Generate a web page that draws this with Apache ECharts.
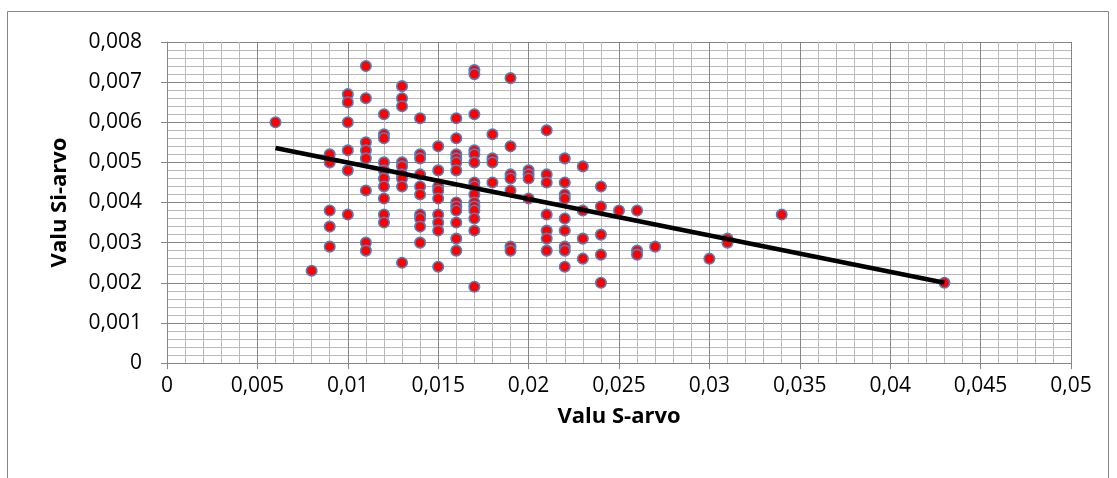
<!DOCTYPE html>
<html>
<head>
<meta charset="utf-8">
<script src="https://cdn.jsdelivr.net/npm/echarts@6/dist/echarts.min.js"></script>
<style>
  html, body { margin: 0; padding: 0; background: #fff; }
  #chart { width: 1117px; height: 478px; }
</style>
</head>
<body>
<div id="chart"></div>
<script>
// S values (x) and Si values (y), one pair per sample
const sValues = [
  0.006,
  0.008,
  0.009, 0.009, 0.009, 0.009, 0.009,
  0.010, 0.010, 0.010, 0.010, 0.010, 0.010,
  0.011, 0.011, 0.011, 0.011, 0.011, 0.011, 0.011, 0.011,
  0.012, 0.012, 0.012, 0.012, 0.012, 0.012, 0.012, 0.012, 0.012, 0.012,
  0.013, 0.013, 0.013, 0.013, 0.013, 0.013, 0.013, 0.013, 0.013,
  0.014, 0.014, 0.014, 0.014, 0.014, 0.014, 0.014, 0.014, 0.014, 0.014,
  0.015, 0.015, 0.015, 0.015, 0.015, 0.015, 0.015, 0.015, 0.015,
  0.016, 0.016, 0.016, 0.016, 0.016, 0.016, 0.016, 0.016, 0.016, 0.016, 0.016, 0.016,
  0.017, 0.017, 0.017, 0.017, 0.017, 0.017, 0.017, 0.017, 0.017, 0.017, 0.017, 0.017, 0.017, 0.017, 0.017,
  0.018, 0.018, 0.018, 0.018,
  0.019, 0.019, 0.019, 0.019, 0.019, 0.019, 0.019,
  0.020, 0.020, 0.020, 0.020,
  0.021, 0.021, 0.021, 0.021, 0.021, 0.021, 0.021,
  0.022, 0.022, 0.022, 0.022, 0.022, 0.022, 0.022, 0.022, 0.022,
  0.023, 0.023, 0.023, 0.023,
  0.024, 0.024, 0.024, 0.024, 0.024,
  0.025,
  0.026, 0.026, 0.026,
  0.027,
  0.030,
  0.031, 0.031,
  0.034,
  0.043
];
const siValues = [
  0.0060,
  0.0023,
  0.0052, 0.0050, 0.0038, 0.0034, 0.0029,
  0.0067, 0.0065, 0.0060, 0.0053, 0.0048, 0.0037,
  0.0074, 0.0066, 0.0055, 0.0053, 0.0051, 0.0043, 0.0030, 0.0028,
  0.0062, 0.0057, 0.0056, 0.0050, 0.0048, 0.0046, 0.0044, 0.0041, 0.0037, 0.0035,
  0.0069, 0.0066, 0.0064, 0.0050, 0.0049, 0.0047, 0.0046, 0.0044, 0.0025,
  0.0061, 0.0052, 0.0051, 0.0047, 0.0044, 0.0042, 0.0037, 0.0036, 0.0034, 0.0030,
  0.0054, 0.0048, 0.0044, 0.0043, 0.0041, 0.0037, 0.0035, 0.0033, 0.0024,
  0.0061, 0.0056, 0.0052, 0.0051, 0.0050, 0.0048, 0.0040, 0.0039, 0.0038, 0.0035, 0.0031, 0.0028,
  0.0073, 0.0072, 0.0062, 0.0053, 0.0052, 0.0050, 0.0045, 0.0044, 0.0042, 0.0040, 0.0039, 0.0038, 0.0036, 0.0033, 0.0019,
  0.0057, 0.0051, 0.0050, 0.0045,
  0.0071, 0.0054, 0.0047, 0.0046, 0.0043, 0.0029, 0.0028,
  0.0048, 0.0047, 0.0046, 0.0041,
  0.0058, 0.0047, 0.0045, 0.0037, 0.0033, 0.0031, 0.0028,
  0.0051, 0.0045, 0.0042, 0.0041, 0.0036, 0.0033, 0.0029, 0.0028, 0.0024,
  0.0049, 0.0038, 0.0031, 0.0026,
  0.0044, 0.0039, 0.0032, 0.0027, 0.0020,
  0.0038,
  0.0038, 0.0028, 0.0027,
  0.0029,
  0.0026,
  0.0031, 0.0030,
  0.0037,
  0.0020
];

// Linear trend line end points
const trendS = [0.006, 0.043];
const trendSi = [0.00536, 0.0020];

// Tick labels (Finnish decimal comma)
const xTickLabels = ['0', '0,005', '0,01', '0,015', '0,02', '0,025', '0,03', '0,035', '0,04', '0,045', '0,05'];
const yTickLabels = ['0', '0,001', '0,002', '0,003', '0,004', '0,005', '0,006', '0,007', '0,008'];

const xTitle = 'Valu S-arvo';
const yTitle = 'Valu Si-arvo';

const points = sValues.map((s, i) => [s, siValues[i]]);
const trend = trendS.map((s, i) => [s, trendSi[i]]);

const FONT = 'Open Sans';
const majorColor = '#858585';
const minorColor = '#b9b9b9';

const chart = echarts.init(document.getElementById('chart'), null, { renderer: 'canvas' });

chart.setOption({
  animation: false,
  backgroundColor: '#ffffff',
  graphic: [{
    type: 'rect',
    shape: { x: 7.5, y: 11.5, width: 1101, height: 520 },
    style: { fill: 'none', stroke: '#868686', lineWidth: 1 },
    silent: true,
    z: -10
  }],
  grid: { left: 167, right: 46, top: 42, bottom: 115, containLabel: false },
  xAxis: {
    type: 'value',
    min: 0, max: 0.05, interval: 0.005,
    name: xTitle,
    nameLocation: 'middle',
    nameGap: 43,
    nameTextStyle: { fontFamily: FONT, fontSize: 22, fontWeight: 'bold', color: '#000' },
    axisLine: { show: true, lineStyle: { color: majorColor, width: 1 } },
    axisTick: { show: true, inside: false, length: 6, lineStyle: { color: majorColor } },
    axisLabel: {
      fontFamily: FONT, fontSize: 21, color: '#000', margin: 13,
      formatter: v => xTickLabels[Math.round(v / 0.005)]
    },
    splitLine: { show: true, lineStyle: { color: majorColor, width: 1 } },
    minorTick: { show: false, splitNumber: 5 },
    minorSplitLine: { show: true, lineStyle: { color: minorColor, width: 1 } }
  },
  yAxis: {
    type: 'value',
    min: 0, max: 0.008, interval: 0.001,
    name: yTitle,
    nameLocation: 'middle',
    nameGap: 96,
    nameRotate: 90,
    nameTextStyle: { fontFamily: FONT, fontSize: 22, fontWeight: 'bold', color: '#000' },
    axisLine: { show: true, lineStyle: { color: majorColor, width: 1 } },
    axisTick: { show: true, inside: false, length: 6, lineStyle: { color: majorColor } },
    axisLabel: {
      fontFamily: FONT, fontSize: 21, color: '#000', margin: 25,
      formatter: v => yTickLabels[Math.round(v / 0.001)]
    },
    splitLine: { show: true, lineStyle: { color: majorColor, width: 1 } },
    minorTick: { show: false, splitNumber: 5 },
    minorSplitLine: { show: true, lineStyle: { color: minorColor, width: 1 } }
  },
  series: [
    {
      type: 'scatter',
      data: points,
      symbol: 'circle',
      symbolSize: 10.5,
      itemStyle: { color: '#ff0000', borderColor: '#4f81bd', borderWidth: 1.6, opacity: 1 },
      z: 2
    },
    {
      type: 'line',
      data: trend,
      symbol: 'none',
      lineStyle: { color: '#000000', width: 4.5 },
      z: 3
    }
  ]
});
</script>
</body>
</html>
